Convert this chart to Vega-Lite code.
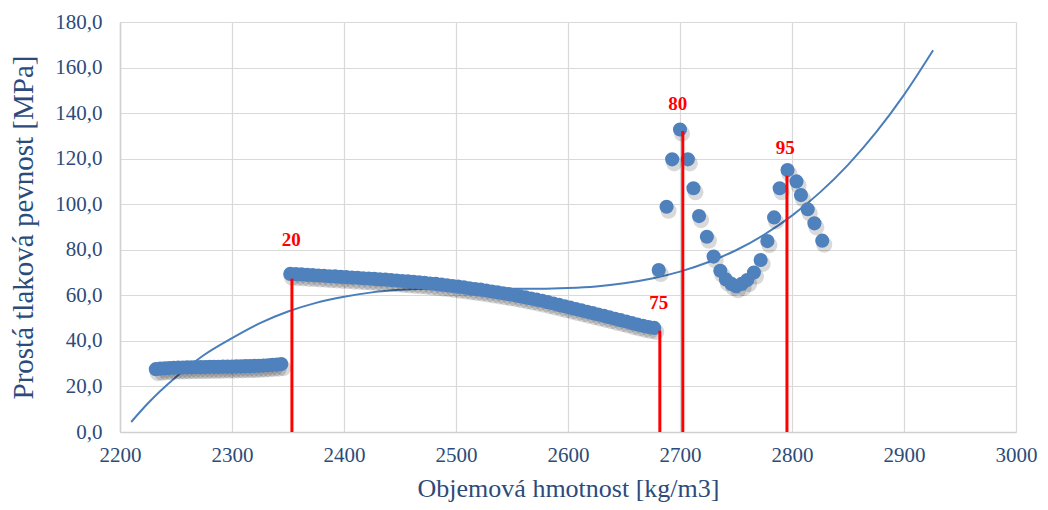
{
  "$schema": "https://vega.github.io/schema/vega-lite/v6.json",
  "width": 896,
  "height": 410,
  "autosize": "none",
  "padding": {"left": 120, "top": 22, "right": 32, "bottom": 78},
  "config": {
    "view": {"stroke": null},
    "locale": {"number": {"decimal": ",", "thousands": " ", "grouping": [3], "currency": ["", ""]}},
    "axis": {
      "grid": true, "gridColor": "#d9d9d9", "gridWidth": 1.2,
      "domainColor": "#d0d0d0", "domainWidth": 1.5, "ticks": false, "labelFlush": false,
      "labelFont": "Liberation Serif", "labelFontSize": 21, "labelColor": "#2C4B7B",
      "titleFont": "Liberation Serif", "titleFontSize": 26, "titleFontWeight": "normal", "titleColor": "#2C4B7B"
    }
  },
  "datasets": {
    "pts": [
      {"x": 2232, "y": 27.6}, {"x": 2236, "y": 27.8}, {"x": 2240, "y": 28.0}, {"x": 2244, "y": 28.1},
      {"x": 2248, "y": 28.2}, {"x": 2252, "y": 28.3}, {"x": 2256, "y": 28.3}, {"x": 2260, "y": 28.4},
      {"x": 2264, "y": 28.4}, {"x": 2268, "y": 28.5}, {"x": 2272, "y": 28.5}, {"x": 2276, "y": 28.5},
      {"x": 2280, "y": 28.6}, {"x": 2284, "y": 28.6}, {"x": 2288, "y": 28.6}, {"x": 2292, "y": 28.7},
      {"x": 2296, "y": 28.7}, {"x": 2300, "y": 28.7}, {"x": 2304, "y": 28.8}, {"x": 2308, "y": 28.8},
      {"x": 2312, "y": 28.9}, {"x": 2316, "y": 28.9}, {"x": 2320, "y": 29.0}, {"x": 2324, "y": 29.1},
      {"x": 2328, "y": 29.2}, {"x": 2332, "y": 29.3}, {"x": 2336, "y": 29.5}, {"x": 2340, "y": 29.6},
      {"x": 2344, "y": 29.8},
      {"x": 2352, "y": 69.4}, {"x": 2357, "y": 69.3}, {"x": 2362, "y": 69.2}, {"x": 2367, "y": 69.0},
      {"x": 2372, "y": 68.9}, {"x": 2377, "y": 68.7}, {"x": 2382, "y": 68.6}, {"x": 2387, "y": 68.4},
      {"x": 2392, "y": 68.3}, {"x": 2397, "y": 68.1}, {"x": 2402, "y": 68.0}, {"x": 2407, "y": 67.8},
      {"x": 2412, "y": 67.7}, {"x": 2417, "y": 67.5}, {"x": 2422, "y": 67.4}, {"x": 2427, "y": 67.2},
      {"x": 2432, "y": 67.0}, {"x": 2437, "y": 66.9}, {"x": 2442, "y": 66.7}, {"x": 2447, "y": 66.5},
      {"x": 2452, "y": 66.3}, {"x": 2457, "y": 66.1}, {"x": 2462, "y": 65.9}, {"x": 2467, "y": 65.7},
      {"x": 2472, "y": 65.5}, {"x": 2477, "y": 65.2}, {"x": 2482, "y": 65.0}, {"x": 2487, "y": 64.7},
      {"x": 2492, "y": 64.4}, {"x": 2497, "y": 64.1}, {"x": 2502, "y": 63.8}, {"x": 2507, "y": 63.5},
      {"x": 2512, "y": 63.1}, {"x": 2517, "y": 62.8}, {"x": 2522, "y": 62.5}, {"x": 2527, "y": 62.1},
      {"x": 2532, "y": 61.7}, {"x": 2537, "y": 61.3}, {"x": 2542, "y": 60.9}, {"x": 2547, "y": 60.5},
      {"x": 2552, "y": 60.1}, {"x": 2557, "y": 59.6}, {"x": 2562, "y": 59.1}, {"x": 2567, "y": 58.6},
      {"x": 2572, "y": 58.1}, {"x": 2577, "y": 57.6}, {"x": 2582, "y": 57.0}, {"x": 2587, "y": 56.4},
      {"x": 2592, "y": 55.8}, {"x": 2597, "y": 55.2}, {"x": 2602, "y": 54.6}, {"x": 2607, "y": 54.0},
      {"x": 2612, "y": 53.4}, {"x": 2617, "y": 52.8}, {"x": 2622, "y": 52.2}, {"x": 2627, "y": 51.6},
      {"x": 2632, "y": 51.0}, {"x": 2637, "y": 50.4}, {"x": 2642, "y": 49.7}, {"x": 2647, "y": 49.1},
      {"x": 2652, "y": 48.5}, {"x": 2657, "y": 47.8}, {"x": 2662, "y": 47.2}, {"x": 2667, "y": 46.6},
      {"x": 2672, "y": 46.1}, {"x": 2677, "y": 45.7},
      {"x": 2681, "y": 71.1}, {"x": 2688, "y": 98.9}, {"x": 2693, "y": 119.7}, {"x": 2700, "y": 132.8},
      {"x": 2707, "y": 119.7}, {"x": 2712, "y": 107.0}, {"x": 2717, "y": 94.8}, {"x": 2724, "y": 85.7},
      {"x": 2730, "y": 77.0}, {"x": 2736, "y": 70.8}, {"x": 2741, "y": 67.0}, {"x": 2746, "y": 65.0},
      {"x": 2750, "y": 64.0}, {"x": 2755, "y": 65.0}, {"x": 2760, "y": 66.7}, {"x": 2766, "y": 70.0},
      {"x": 2772, "y": 75.5}, {"x": 2778, "y": 83.8}, {"x": 2784, "y": 94.2}, {"x": 2789, "y": 107.0},
      {"x": 2796, "y": 115.0}, {"x": 2804, "y": 110.0}, {"x": 2808, "y": 104.0}, {"x": 2814, "y": 97.8},
      {"x": 2820, "y": 91.6}, {"x": 2827, "y": 84.0}
    ],
    "trend": [
      {"x": 2210, "y": 4.4}, {"x": 2225, "y": 12.6}, {"x": 2250, "y": 24.1}, {"x": 2275, "y": 33.8},
      {"x": 2300, "y": 41.2}, {"x": 2325, "y": 47.8}, {"x": 2350, "y": 52.9}, {"x": 2375, "y": 56.7},
      {"x": 2400, "y": 59.4}, {"x": 2425, "y": 61.3}, {"x": 2450, "y": 62.4}, {"x": 2475, "y": 62.9},
      {"x": 2500, "y": 63.1}, {"x": 2525, "y": 63.0}, {"x": 2550, "y": 62.9}, {"x": 2575, "y": 62.9},
      {"x": 2600, "y": 63.2}, {"x": 2625, "y": 63.9}, {"x": 2650, "y": 65.3}, {"x": 2675, "y": 67.4},
      {"x": 2700, "y": 70.4}, {"x": 2725, "y": 74.5}, {"x": 2750, "y": 79.8}, {"x": 2775, "y": 86.6},
      {"x": 2800, "y": 95.0}, {"x": 2825, "y": 105.2}, {"x": 2850, "y": 117.3}, {"x": 2875, "y": 131.5},
      {"x": 2900, "y": 148.0}, {"x": 2926, "y": 167.6}
    ],
    "marks": [
      {"x": 2353.5, "top": 67.3, "lx": 2353, "ly": 84.2, "label": "20"},
      {"x": 2682, "top": 44.5, "lx": 2681, "ly": 56.8, "label": "75"},
      {"x": 2702.5, "top": 132.2, "lx": 2698, "ly": 144.2, "label": "80"},
      {"x": 2795.5, "top": 112.5, "lx": 2794, "ly": 124.8, "label": "95"}
    ]
  },
  "encoding": {
    "x": {"field": "x", "type": "quantitative",
      "scale": {"domain": [2200, 3000], "nice": false, "zero": false},
      "axis": {"values": [2200, 2300, 2400, 2500, 2600, 2700, 2800, 2900, 3000], "format": "d",
        "title": "Objemová hmotnost [kg/m3]", "labelPadding": 12, "titlePadding": 10}},
    "y": {"field": "y", "type": "quantitative",
      "scale": {"domain": [0, 180], "nice": false},
      "axis": {"values": [0, 20, 40, 60, 80, 100, 120, 140, 160, 180], "format": ".1f",
        "title": "Prostá tlaková pevnost [MPa]", "titleFontSize": 29, "labelPadding": 18, "titlePadding": 16}}
  },
  "layer": [
    {"data": {"name": "trend"}, "mark": {"type": "line", "color": "#4A7EBB", "strokeWidth": 2, "interpolate": "monotone"}},
    {"data": {"name": "pts"}, "mark": {"type": "circle", "color": "#000000", "opacity": 0.15, "size": 260, "xOffset": 2, "yOffset": 4}},
    {"data": {"name": "pts"}, "mark": {"type": "circle", "color": "#4F81BD", "opacity": 1, "size": 200}},
    {"data": {"name": "marks"}, "mark": {"type": "rule", "color": "#FF0000", "strokeWidth": 3},
      "encoding": {"x": {"field": "x", "type": "quantitative"}, "y": {"field": "top", "type": "quantitative"}, "y2": {"datum": 0}}},
    {"data": {"name": "marks"}, "mark": {"type": "text", "color": "#FF0000", "font": "Liberation Serif", "fontWeight": "bold", "fontSize": 19, "baseline": "middle", "align": "center"},
      "encoding": {"x": {"field": "lx", "type": "quantitative"}, "y": {"field": "ly", "type": "quantitative"}, "text": {"field": "label"}}}
  ]
}
